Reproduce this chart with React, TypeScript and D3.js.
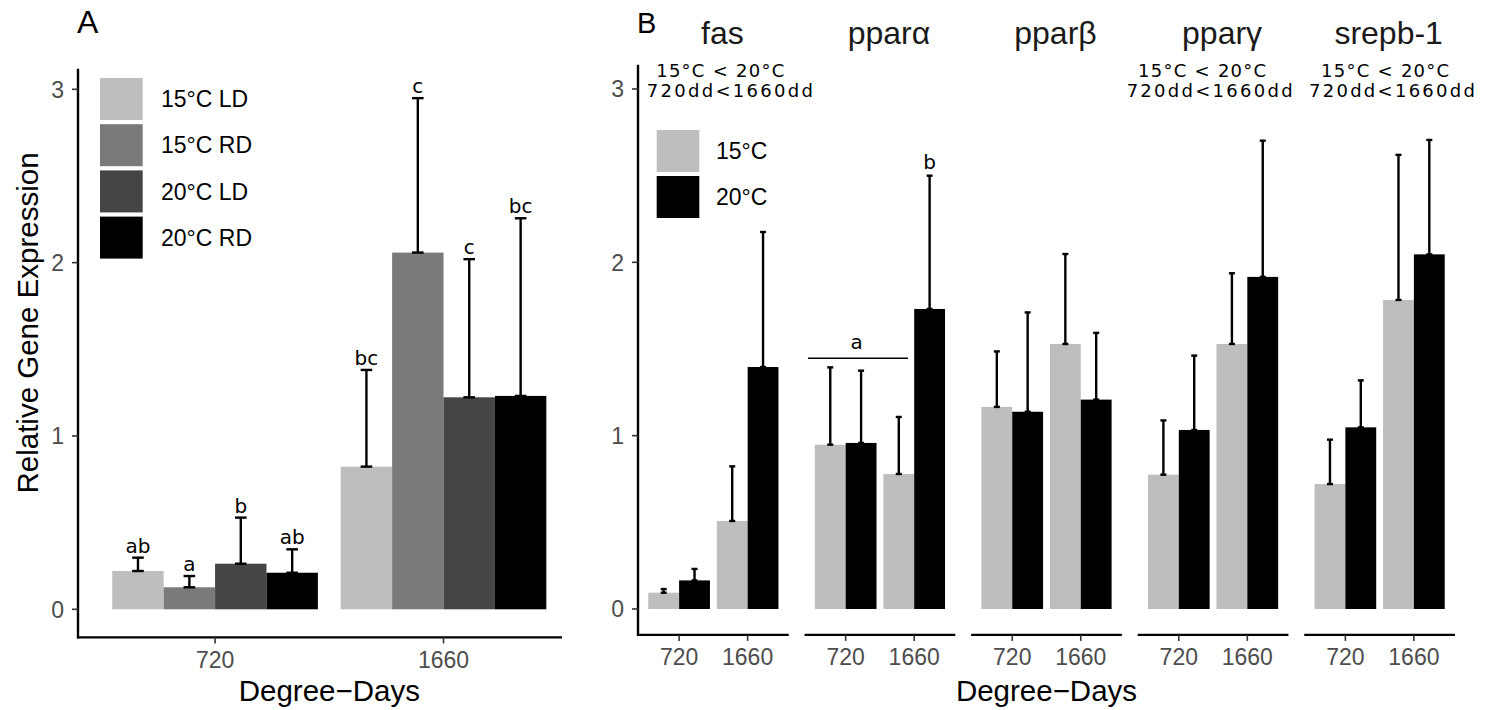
import React from "react";
import * as d3 from "d3";

// ---------- Panel A data ----------
const groupsA = ["720", "1660"];
const seriesA = ["15°C LD", "15°C RD", "20°C LD", "20°C RD"];
const colorsA = ["#BEBEBE", "#7A7A7A", "#454545", "#000000"];
const meansA720 = [0.221, 0.127, 0.263, 0.211];
const errTopA720 = [0.298, 0.192, 0.529, 0.346];
const meansA1660 = [0.823, 2.058, 1.223, 1.231];
const errTopA1660 = [1.381, 2.949, 2.02, 2.256];
const lettersA720 = ["ab", "a", "b", "ab"];
const lettersA1660 = ["bc", "c", "c", "bc"];

// ---------- Panel B data ----------
const genes = ["fas", "pparα", "pparβ", "pparγ", "srepb-1"];
const groupsB = ["720", "1660"];
const seriesB = ["15°C", "20°C"];
const colorsB = ["#BEBEBE", "#000000"];
const means15_720 = [0.094, 0.948, 1.166, 0.775, 0.721];
const errTop15_720 = [0.115, 1.394, 1.486, 1.088, 0.977];
const means20_720 = [0.165, 0.958, 1.138, 1.033, 1.048];
const errTop20_720 = [0.231, 1.375, 1.711, 1.462, 1.319];
const means15_1660 = [0.508, 0.779, 1.529, 1.529, 1.783];
const errTop15_1660 = [0.823, 1.108, 2.048, 1.937, 2.62];
const means20_1660 = [1.396, 1.731, 1.208, 1.916, 2.046];
const errTop20_1660 = [2.175, 2.5, 1.593, 2.702, 2.706];
const yTicks = [0, 1, 2, 3];
// annotation text (facets with significant main effects)
const annotLine1 = ["15°C < 20°C", "", "", "15°C < 20°C", "15°C < 20°C"];
const annotLine2 = ["720dd<1660dd", "", "", "720dd<1660dd", "720dd<1660dd"];
const annotX1 = [1.6, 0, 0, 1.34, 1.58];
const annotX2 = [1.74, 0, 0, 1.45, 1.68];
// pparα group letters
const pparaLetterA = { gene: "pparα", x1: 0.45, x2: 1.91, y: 1.447, label: "a", lx: 1.16, ly: 1.5 };
const pparaLetterB = { gene: "pparα", group: 1, series: 1, label: "b" };

const SANS = "'Liberation Sans', Arial, sans-serif";
const DJV = "'DejaVu Sans', sans-serif";

export default function App() {
  // ---------- scales panel A ----------
  const yA = d3.scaleLinear().domain([0, 3]).range([609.3, 89.3]);
  const xA = d3.scaleLinear().domain([0.4, 2.6]).range([78, 580.6]);
  const barWA = 0.225;
  const xAxisEndA = 562;

  // ---------- scales panel B ----------
  const yB = d3.scaleLinear().domain([0, 3]).range([609, 89]);
  const facet = d3.scaleBand<string>().domain(genes).range([638, 1455]).paddingInner(0.095).paddingOuter(0);
  const bw = facet.bandwidth();
  const xInB = d3.scaleLinear().domain([0.4, 2.6]).range([0, bw]);
  const barWB = 0.45;

  const dataA = [
    { means: meansA720, errs: errTopA720, letters: lettersA720 },
    { means: meansA1660, errs: errTopA1660, letters: lettersA1660 },
  ];

  const dataB = genes.map((g, i) => [
    [
      { m: means15_720[i], e: errTop15_720[i] },
      { m: means20_720[i], e: errTop20_720[i] },
    ],
    [
      { m: means15_1660[i], e: errTop15_1660[i] },
      { m: means20_1660[i], e: errTop20_1660[i] },
    ],
  ]);

  const axisStroke = 2.4;
  const errStroke = 2.4;
  const tickFont = 23;
  const titleFont = 29.5;

  return (
    <svg width={1497} height={710} style={{ position: "absolute", left: 0, top: 0, background: "#fff" }}>
      <rect x={0} y={0} width={1497} height={710} fill="#fff" />
      {/* ================= Panel A ================= */}
      <text x={77} y={33} fontFamily={SANS} fontSize={32} fill="#000">A</text>
      {/* bars */}
      {dataA.map((grp, gi) =>
        grp.means.map((m, si) => {
          const cx = gi + 1 - 0.45 + barWA * (si + 0.5);
          const x0 = xA(cx - barWA / 2);
          const x1 = xA(cx + barWA / 2);
          return (
            <rect key={`a${gi}${si}`} x={x0} y={yA(m)} width={x1 - x0} height={yA(0) - yA(m)} fill={colorsA[si]} />
          );
        })
      )}
      {/* error bars */}
      {dataA.map((grp, gi) =>
        grp.means.map((m, si) => {
          const cx = xA(gi + 1 - 0.45 + barWA * (si + 0.5));
          const cap = 5.8;
          return (
            <g key={`ae${gi}${si}`} stroke="#000" strokeWidth={errStroke}>
              <line x1={cx} x2={cx} y1={yA(m)} y2={yA(grp.errs[si])} />
              <line x1={cx - cap} x2={cx + cap} y1={yA(grp.errs[si])} y2={yA(grp.errs[si])} />
              <line x1={cx - cap} x2={cx + cap} y1={yA(m)} y2={yA(m)} />
            </g>
          );
        })
      )}
      {/* letters */}
      {dataA.map((grp, gi) =>
        grp.letters.map((l, si) => {
          const cx = xA(gi + 1 - 0.45 + barWA * (si + 0.5));
          return (
            <text key={`al${gi}${si}`} x={cx} y={yA(grp.errs[si]) - 5} textAnchor="middle" fontFamily={DJV} fontSize={20} fill="#000">
              {l}
            </text>
          );
        })
      )}
      {/* axes */}
      <line x1={xA(0.4)} x2={xA(0.4)} y1={yA(3.118)} y2={yA(-0.162) + 1} stroke="#000" strokeWidth={axisStroke} />
      <line x1={xA(0.4) - 1} x2={xAxisEndA} y1={yA(-0.162)} y2={yA(-0.162)} stroke="#000" strokeWidth={axisStroke} />
      {yTicks.map((t) => (
        <g key={`ayt${t}`}>
          <line x1={xA(0.4) - 6} x2={xA(0.4)} y1={yA(t)} y2={yA(t)} stroke="#333" strokeWidth={1.6} />
          <text x={xA(0.4) - 14} y={yA(t)} dy="0.36em" textAnchor="end" fontFamily={SANS} fontSize={tickFont} fill="#4D4D4D">
            {t}
          </text>
        </g>
      ))}
      {groupsA.map((g, gi) => (
        <g key={`axt${g}`}>
          <line x1={xA(gi + 1)} x2={xA(gi + 1)} y1={yA(-0.162)} y2={yA(-0.162) + 6} stroke="#333" strokeWidth={1.6} />
          <text x={xA(gi + 1)} y={668} textAnchor="middle" fontFamily={SANS} fontSize={tickFont} fill="#4D4D4D">
            {g}
          </text>
        </g>
      ))}
      <text x={(xA(0.4) + xA(2.6)) / 2} y={701} textAnchor="middle" fontFamily={SANS} fontSize={titleFont} fill="#000">
        Degree−Days
      </text>
      <text
        transform={`translate(38,323) rotate(-90)`}
        textAnchor="middle"
        fontFamily={SANS}
        fontSize={titleFont}
        fill="#000"
      >
        Relative Gene Expression
      </text>
      {/* legend A */}
      {seriesA.map((s, i) => (
        <g key={`lga${i}`}>
          <rect x={100} y={78 + i * 46.2} width={42.7} height={42} fill={colorsA[i]} />
          <text x={161} y={78 + i * 46.2 + 21} dy="0.36em" fontFamily={SANS} fontSize={tickFont} fill="#000">
            {s}
          </text>
        </g>
      ))}

      {/* ================= Panel B ================= */}
      <text x={637} y={33} fontFamily={SANS} fontSize={29} fill="#000">B</text>
      {genes.map((g, gi) => {
        const x0 = facet(g)!;
        const xs = (v: number) => x0 + xInB(v);
        return (
          <g key={`f${g}`}>
            {/* strip title */}
            <text x={x0 + bw / 2 + 9} y={44} textAnchor="middle" fontFamily={SANS} fontSize={32} fill="#1A1A1A">
              {g}
            </text>
            {/* bars */}
            {dataB[gi].map((grp, ci) =>
              grp.map((d, si) => {
                const c = ci + 1 - 0.45 + barWB * (si + 0.5);
                const bx0 = xs(c - barWB / 2);
                const bx1 = xs(c + barWB / 2);
                return (
                  <rect key={`b${ci}${si}`} x={bx0} y={yB(d.m)} width={bx1 - bx0} height={yB(0) - yB(d.m)} fill={colorsB[si]} />
                );
              })
            )}
            {/* error bars */}
            {dataB[gi].map((grp, ci) =>
              grp.map((d, si) => {
                const cx = xs(ci + 1 - 0.45 + barWB * (si + 0.5));
                const cap = 3;
                return (
                  <g key={`be${ci}${si}`} stroke="#000" strokeWidth={errStroke}>
                    <line x1={cx} x2={cx} y1={yB(d.m)} y2={yB(d.e)} />
                    <line x1={cx - cap} x2={cx + cap} y1={yB(d.e)} y2={yB(d.e)} />
                    <line x1={cx - cap} x2={cx + cap} y1={yB(d.m)} y2={yB(d.m)} />
                  </g>
                );
              })
            )}
            {/* x axis */}
            <line x1={x0 - (gi === 0 ? 1 : 0)} x2={x0 + bw} y1={yB(-0.1495)} y2={yB(-0.1495)} stroke="#000" strokeWidth={axisStroke} />
            {groupsB.map((t, ti) => (
              <g key={`bxt${ti}`}>
                <line x1={xs(ti + 1)} x2={xs(ti + 1)} y1={yB(-0.1495)} y2={yB(-0.1495) + 6} stroke="#333" strokeWidth={1.6} />
                <text x={xs(ti + 1)} y={665} textAnchor="middle" fontFamily={SANS} fontSize={tickFont} fill="#4D4D4D">
                  {t}
                </text>
              </g>
            ))}
            {/* annotations */}
            {annotLine1[gi] && (
              <g fontFamily={DJV} fontSize={18} fill="#000" textAnchor="middle">
                <text x={xs(annotX1[gi])} y={77} textLength={128} lengthAdjust="spacing">{annotLine1[gi]}</text>
                <text x={xs(annotX2[gi])} y={97} textLength={166} lengthAdjust="spacing">{annotLine2[gi]}</text>
              </g>
            )}
            {g === pparaLetterA.gene && (
              <g>
                <line x1={xs(pparaLetterA.x1)} x2={xs(pparaLetterA.x2)} y1={yB(pparaLetterA.y)} y2={yB(pparaLetterA.y)} stroke="#000" strokeWidth={1.4} />
                <text x={xs(pparaLetterA.lx)} y={yB(pparaLetterA.ly)} textAnchor="middle" fontFamily={DJV} fontSize={20} fill="#000">
                  {pparaLetterA.label}
                </text>
                <text
                  x={xs(pparaLetterB.group + 1 - 0.45 + barWB * (pparaLetterB.series + 0.5))}
                  y={yB(dataB[gi][pparaLetterB.group][pparaLetterB.series].e) - 7}
                  textAnchor="middle"
                  fontFamily={DJV}
                  fontSize={20}
                  fill="#000"
                >
                  {pparaLetterB.label}
                </text>
              </g>
            )}
          </g>
        );
      })}
      {/* y axis B */}
      <line x1={638} x2={638} y1={yB(3.14)} y2={yB(-0.1495) + 1} stroke="#000" strokeWidth={axisStroke} />
      {yTicks.map((t) => (
        <g key={`byt${t}`}>
          <line x1={632} x2={638} y1={yB(t)} y2={yB(t)} stroke="#333" strokeWidth={1.6} />
          <text x={624} y={yB(t)} dy="0.36em" textAnchor="end" fontFamily={SANS} fontSize={tickFont} fill="#4D4D4D">
            {t}
          </text>
        </g>
      ))}
      <text x={(638 + 1455) / 2} y={701} textAnchor="middle" fontFamily={SANS} fontSize={titleFont} fill="#000">
        Degree−Days
      </text>
      {/* legend B */}
      {seriesB.map((s, i) => (
        <g key={`lgb${i}`}>
          <rect x={656.7} y={130 + i * 46} width={42.6} height={42} fill={colorsB[i]} />
          <text x={716} y={130 + i * 46 + 21} dy="0.36em" fontFamily={SANS} fontSize={tickFont} fill="#000">
            {s}
          </text>
        </g>
      ))}
    </svg>
  );
}
